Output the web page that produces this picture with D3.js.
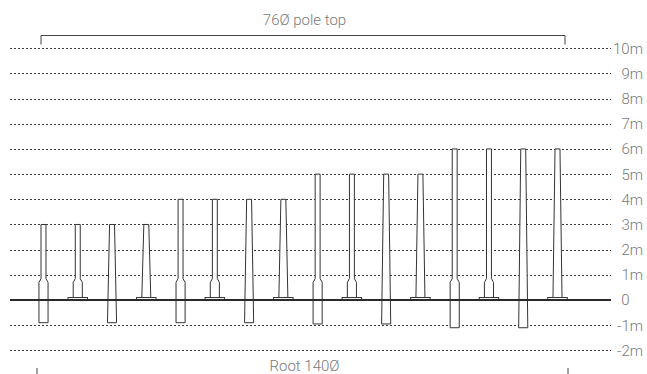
<!DOCTYPE html>
<html>
<head>
<meta charset="utf-8">
<script src="https://cdn.jsdelivr.net/npm/d3@7"></script>
<style>
  html, body { margin: 0; padding: 0; background: #fff; }
  svg { display: block; }
</style>
</head>
<body>
<svg id="chart" width="647" height="374"></svg>
<script>
// ---- data ----
const poleIds = d3.range(1, 17);
const poleHeights = [3, 3, 3, 3, 4, 4, 4, 4, 5, 5, 5, 5, 6, 6, 6, 6];
const poleTypes = ["stepped-embedded", "stepped-plate", "tapered-embedded", "tapered-plate",
                   "stepped-embedded", "stepped-plate", "tapered-embedded", "tapered-plate",
                   "stepped-embedded", "stepped-plate", "tapered-embedded", "tapered-plate",
                   "stepped-embedded", "stepped-plate", "tapered-embedded", "tapered-plate"];
const embedDepths = [0.9, 0, 0.9, 0, 0.9, 0, 0.9, 0, 0.95, 0, 0.95, 0, 1.1, 0, 1.1, 0];
const topDiameter = 76;    // mm
const rootDiameter = 140;  // mm
const plateWidth = 300;    // mm
const stepTop = 0.85;      // m
const stepBottom = 0.7;    // m
const tickValues = [-2, -1, 0, 1, 2, 3, 4, 5, 6, 7, 8, 9, 10];
const tickLabels = ["-2m", "-1m", "0", "1m", "2m", "3m", "4m", "5m", "6m", "7m", "8m", "9m", "10m"];
const topLabel = "76Ø pole top";
const bottomLabel = "Root 140Ø";

// ---- scales ----
const svg = d3.select("#chart");
const y = d3.scaleLinear().domain([-2, 10]).range([350.4, 48.2]);
const x = d3.scalePoint().domain(poleIds).range([43.5, 557.5]);
const w = d3.scaleLinear().domain([0, 1]).range([0, 0.065]); // mm -> px

const ink = "#333";
const gray = "#7a7a7a";

// ---- grid ----
const gridX0 = 10, gridX1 = 611;
svg.append("g").selectAll("line")
  .data(tickValues.filter(v => v !== 0))
  .join("line")
  .attr("x1", gridX0).attr("x2", gridX1)
  .attr("y1", d => Math.round(y(d)) + 0.5).attr("y2", d => Math.round(y(d)) + 0.5)
  .attr("stroke", "#3a3a3a").attr("stroke-width", 1)
  .attr("stroke-dasharray", "2,2");

// labels
svg.append("g").selectAll("text")
  .data(tickValues)
  .join("text")
  .attr("x", (d, i) => d === 0 ? 629.5 : 643)
  .attr("y", d => y(d))
  .attr("dy", "0.36em")
  .attr("text-anchor", "end")
  .attr("font-family", "Roboto, 'Liberation Sans', sans-serif")
  .attr("font-weight", 300)
  .attr("font-size", 15)
  .attr("fill", gray)
  .text((d, i) => tickLabels[i]);

// ---- poles ----
function polePoints(i) {
  const cx = x(poleIds[i]);
  const H = poleHeights[i];
  const type = poleTypes[i];
  const bottom = -embedDepths[i];
  const t = w(topDiameter) / 2, r = w(rootDiameter) / 2;
  let pts;
  if (type.startsWith("stepped")) {
    pts = [[-t, H], [t, H], [t, stepTop], [r, stepBottom], [r, bottom],
           [-r, bottom], [-r, stepBottom], [-t, stepTop]];
  } else {
    pts = [[-t, H], [t, H], [r, bottom], [-r, bottom]];
  }
  return pts.map(p => [cx + p[0], y(p[1])]);
}

const poles = svg.append("g");
poleIds.forEach((id, i) => {
  poles.append("polygon")
    .attr("points", polePoints(i).map(p => p.join(",")).join(" "))
    .attr("fill", "#fff")
    .attr("stroke", ink)
    .attr("stroke-width", 1)
    .attr("stroke-linejoin", "miter");
  if (poleTypes[i].endsWith("plate")) {
    const pw = w(plateWidth);
    poles.append("rect")
      .attr("x", x(id) - pw / 2).attr("y", y(0) - 2.5)
      .attr("width", pw).attr("height", 2)
      .attr("fill", "#fff").attr("stroke", ink).attr("stroke-width", 1);
  }
});

// zero line
svg.append("line")
  .attr("x1", gridX0).attr("x2", gridX1)
  .attr("y1", y(0)).attr("y2", y(0))
  .attr("stroke", "#2a2a2a").attr("stroke-width", 2);

// ---- brackets & annotations ----
const first = x(poleIds[0]), last = x(poleIds[poleIds.length - 1]);
svg.append("path")
  .attr("d", `M${first - 2.5},44.5 V35.5 H${last + 7.5} V44.5`)
  .attr("fill", "none").attr("stroke", "#444").attr("stroke-width", 1);
svg.append("text")
  .attr("x", (first + last) / 2 + 4).attr("y", 25)
  .attr("text-anchor", "middle")
  .attr("font-family", "Roboto, 'Liberation Sans', sans-serif")
  .attr("font-weight", 300).attr("font-size", 15).attr("fill", gray)
  .text(topLabel);

svg.append("path")
  .attr("d", `M${first - 6.5},368 V380 M${last + 10.5},368 V380`)
  .attr("fill", "none").attr("stroke", "#444").attr("stroke-width", 1);
svg.append("text")
  .attr("x", (first + last) / 2 + 4).attr("y", 371)
  .attr("text-anchor", "middle")
  .attr("font-family", "Roboto, 'Liberation Sans', sans-serif")
  .attr("font-weight", 300).attr("font-size", 15).attr("fill", gray)
  .text(bottomLabel);
</script>
</body>
</html>
